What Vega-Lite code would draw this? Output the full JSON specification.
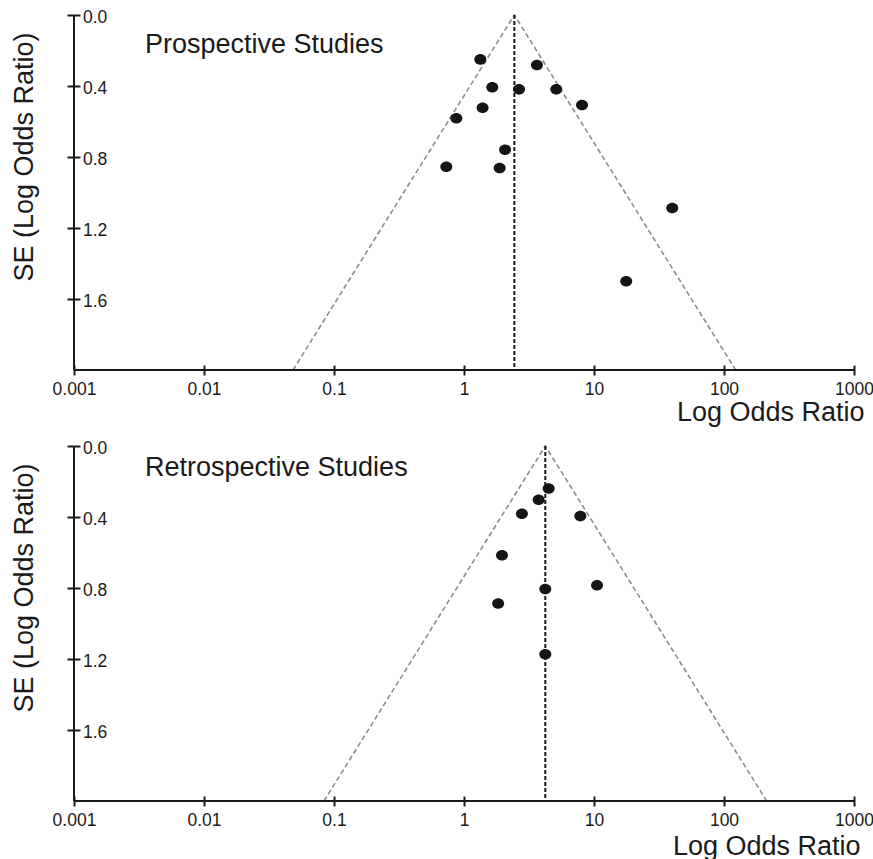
{
  "$schema": "https://vega.github.io/schema/vega-lite/v6.json",
  "padding": {"left": 10, "top": 8, "right": 0, "bottom": 0},
  "background": "white",
  "config": {
    "view": {"stroke": null},
    "font": "Liberation Sans",
    "concat": {"spacing": 14},
    "axis": {"domain": false, "grid": false, "tickColor": "#1a1a1a", "tickWidth": 2, "labelColor": "#1a1a1a", "labelFontSize": 17.5, "labelFont": "Liberation Sans", "titleFont": "Liberation Sans", "titleFontSize": 27, "titleFontWeight": "normal", "titleColor": "#1a1a1a", "labelFlush": false, "labelOverlap": false}
  },
  "datasets": {
    "prospective": [
      {"or": 1.335, "se": 0.25}, {"or": 3.64, "se": 0.282}, {"or": 1.65, "se": 0.407}, {"or": 2.65, "se": 0.419},
      {"or": 5.13, "se": 0.419}, {"or": 8.09, "se": 0.507}, {"or": 1.39, "se": 0.522}, {"or": 0.873, "se": 0.582},
      {"or": 2.07, "se": 0.759}, {"or": 0.731, "se": 0.855}, {"or": 1.88, "se": 0.862}, {"or": 40.0, "se": 1.087},
      {"or": 17.7, "se": 1.5}
    ],
    "retrospective": [
      {"or": 4.48, "se": 0.239}, {"or": 3.75, "se": 0.303}, {"or": 2.79, "se": 0.382}, {"or": 7.85, "se": 0.395},
      {"or": 1.96, "se": 0.616}, {"or": 10.55, "se": 0.785}, {"or": 4.22, "se": 0.806}, {"or": 1.83, "se": 0.887},
      {"or": 4.22, "se": 1.173}
    ],
    "funnelP": [{"or": 0.0484, "se": 2.0, "o": 1}, {"or": 2.44, "se": 0.0, "o": 2}, {"or": 123, "se": 2.0, "o": 3}],
    "funnelR": [{"or": 0.0837, "se": 2.0, "o": 1}, {"or": 4.22, "se": 0.0, "o": 2}, {"or": 213, "se": 2.0, "o": 3}],
    "pooledP": [{"or": 2.44, "se": 0.0, "se2": 2.0}],
    "pooledR": [{"or": 4.22, "se": 0.0, "se2": 2.0}],
    "frame": [{"xmin": 0.001, "xmax": 1000, "ymin": 0, "ymax": 2}]
  },
  "vconcat": [
    {
      "width": 780, "height": 355,
      "title": {"text": "Prospective Studies", "anchor": "start", "frame": "group", "dx": 71, "offset": -72, "baseline": "alphabetic", "fontSize": 27, "fontWeight": "normal", "color": "#1a1a1a", "font": "Liberation Sans"},
      "layer": [
        {
          "data": {"name": "funnelP"},
          "mark": {"type": "line", "stroke": "#8c8c8c", "strokeWidth": 1.6, "strokeDash": [5, 3]},
          "encoding": {
            "x": {"field": "or", "type": "quantitative", "scale": {"type": "log", "domain": [0.001, 1000]},
              "axis": {"values": [0.001, 0.01, 0.1, 1, 10, 100, 1000], "format": "~g", "title": "Log Odds Ratio", "offset": -5, "tickSize": 10, "labelPadding": 5, "titleAlign": "right", "titleBaseline": "alphabetic", "titleX": 790, "titleY": 55}},
            "y": {"field": "se", "type": "quantitative", "scale": {"domain": [0, 2], "reverse": true},
              "axis": {"values": [0, 0.4, 0.8, 1.2, 1.6], "format": ".1f", "title": "SE (Log Odds Ratio)", "offset": -6, "tickSize": 13, "labelPadding": -15.5, "labelAlign": "left", "labelOffset": 2, "titleX": -55.3, "titleY": 141.5, "titleAlign": "center", "titleBaseline": "middle"}},
            "order": {"field": "o"}
          }
        },
        {
          "data": {"name": "pooledP"},
          "mark": {"type": "rule", "stroke": "#1a1a1a", "strokeWidth": 2, "strokeDash": [4, 2]},
          "encoding": {"x": {"field": "or", "type": "quantitative"}, "y": {"field": "se", "type": "quantitative"}, "y2": {"field": "se2"}}
        },
        {
          "data": {"name": "frame"},
          "mark": {"type": "rule", "stroke": "#1a1a1a", "strokeWidth": 2},
          "encoding": {"x": {"field": "xmin", "type": "quantitative"}, "y": {"field": "ymin", "type": "quantitative"}, "y2": {"field": "ymax"}}
        },
        {
          "data": {"name": "frame"},
          "mark": {"type": "rule", "stroke": "#1a1a1a", "strokeWidth": 2},
          "encoding": {"x": {"field": "xmin", "type": "quantitative"}, "x2": {"field": "xmax"}, "y": {"field": "ymax", "type": "quantitative"}}
        },
        {
          "data": {"name": "prospective"},
          "mark": {"type": "point", "filled": true, "shape": "M-1,0A1,0.88,0,1,0,1,0A1,0.88,0,1,0,-1,0Z", "size": 144, "color": "#151515", "opacity": 1},
          "encoding": {"x": {"field": "or", "type": "quantitative"}, "y": {"field": "se", "type": "quantitative"}}
        }
      ]
    },
    {
      "width": 780, "height": 355,
      "title": {"text": "Retrospective Studies", "anchor": "start", "frame": "group", "dx": 71, "offset": -64, "baseline": "alphabetic", "fontSize": 27, "fontWeight": "normal", "color": "#1a1a1a", "font": "Liberation Sans"},
      "layer": [
        {
          "data": {"name": "funnelR"},
          "mark": {"type": "line", "stroke": "#8c8c8c", "strokeWidth": 1.6, "strokeDash": [5, 3]},
          "encoding": {
            "x": {"field": "or", "type": "quantitative", "scale": {"type": "log", "domain": [0.001, 1000]},
              "axis": {"values": [0.001, 0.01, 0.1, 1, 10, 100, 1000], "format": "~g", "title": "Log Odds Ratio", "offset": -5, "tickSize": 10, "labelPadding": 5, "titleAlign": "right", "titleBaseline": "alphabetic", "titleX": 786, "titleY": 58}},
            "y": {"field": "se", "type": "quantitative", "scale": {"domain": [0, 2], "reverse": true},
              "axis": {"values": [0, 0.4, 0.8, 1.2, 1.6], "format": ".1f", "title": "SE (Log Odds Ratio)", "offset": -6, "tickSize": 13, "labelPadding": -15.5, "labelAlign": "left", "labelOffset": 2, "titleX": -55.3, "titleY": 141.5, "titleAlign": "center", "titleBaseline": "middle"}},
            "order": {"field": "o"}
          }
        },
        {
          "data": {"name": "pooledR"},
          "mark": {"type": "rule", "stroke": "#1a1a1a", "strokeWidth": 2, "strokeDash": [4, 2]},
          "encoding": {"x": {"field": "or", "type": "quantitative"}, "y": {"field": "se", "type": "quantitative"}, "y2": {"field": "se2"}}
        },
        {
          "data": {"name": "frame"},
          "mark": {"type": "rule", "stroke": "#1a1a1a", "strokeWidth": 2},
          "encoding": {"x": {"field": "xmin", "type": "quantitative"}, "y": {"field": "ymin", "type": "quantitative"}, "y2": {"field": "ymax"}}
        },
        {
          "data": {"name": "frame"},
          "mark": {"type": "rule", "stroke": "#1a1a1a", "strokeWidth": 2},
          "encoding": {"x": {"field": "xmin", "type": "quantitative"}, "x2": {"field": "xmax"}, "y": {"field": "ymax", "type": "quantitative"}}
        },
        {
          "data": {"name": "retrospective"},
          "mark": {"type": "point", "filled": true, "shape": "M-1,0A1,0.88,0,1,0,1,0A1,0.88,0,1,0,-1,0Z", "size": 144, "color": "#151515", "opacity": 1},
          "encoding": {"x": {"field": "or", "type": "quantitative"}, "y": {"field": "se", "type": "quantitative"}}
        }
      ]
    }
  ]
}
